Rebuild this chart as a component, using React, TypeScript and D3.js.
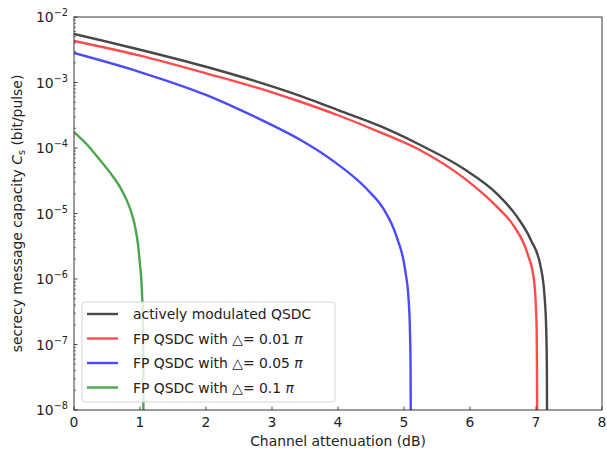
import React from 'react'
import * as d3 from 'd3'

// attenuation (dB) and log10 of capacity
const blackAtt = [0, 1, 2, 3, 3.58, 4, 4.65, 5.24, 5.91, 6.41, 6.72, 6.92, 7.07, 7.13, 7.155, 7.165, 7.17]
const blackLog = [-2.26, -2.5, -2.76, -3.06, -3.26, -3.42, -3.67, -3.95, -4.32, -4.7, -5.06, -5.4, -5.81, -6.27, -6.78, -7.4, -9]

const redAtt = [0, 1, 2, 3, 3.42, 4, 4.64, 5.24, 5.91, 6.41, 6.67, 6.87, 6.97, 7.0, 7.01, 7.015, 7.02]
const redLog = [-2.366, -2.59, -2.86, -3.15, -3.29, -3.5, -3.76, -4.03, -4.46, -4.9, -5.2, -5.61, -6.02, -6.47, -6.78, -7.4, -9]

const blueAtt = [0, 1, 2, 2.5, 3, 3.42, 3.93, 4.44, 4.69, 4.89, 5.02, 5.07, 5.09, 5.1, 5.105]
const blueLog = [-2.55, -2.84, -3.19, -3.41, -3.65, -3.87, -4.2, -4.63, -4.93, -5.36, -5.88, -6.32, -6.78, -7.4, -9]

const greenAtt = [0, 0.2, 0.39, 0.55, 0.7, 0.8, 0.88, 0.93, 0.97, 1.0, 1.03, 1.045, 1.05, 1.055]
const greenLog = [-3.756, -3.95, -4.18, -4.38, -4.6, -4.8, -5.02, -5.22, -5.48, -5.78, -6.2, -6.7, -7.4, -9]

const seriesNames = ['actively modulated QSDC', 'FP QSDC with ', 'FP QSDC with ', 'FP QSDC with ']
const deltas = ['', '0.01', '0.05', '0.1']
const colors = ['#474747', '#ff4b4b', '#4a4aff', '#4ca64c']

const xTicks = [0, 1, 2, 3, 4, 5, 6, 7, 8]
const yExps = [-8, -7, -6, -5, -4, -3, -2]

const W = 607
const H = 449
const left = 74
const right = 602
const top = 17
const bottom = 410
const font = 'DejaVu Sans, sans-serif'

export default function App() {
  const x = d3.scaleLinear().domain([0, 8]).range([left, right])
  const y = d3.scaleLog().domain([1e-8, 1e-2]).range([bottom, top])

  const series = [
    [blackAtt, blackLog],
    [redAtt, redLog],
    [blueAtt, blueLog],
    [greenAtt, greenLog],
  ].map(([a, l]) => a.map((v, i) => [v, Math.pow(10, l[i])] as [number, number]))

  const line = d3.line<[number, number]>()
    .x(d => x(d[0]))
    .y(d => y(d[1]))
    .curve(d3.curveMonotoneX)

  const minor: number[] = []
  for (let e = -8; e < -2; e++) {
    for (let k = 2; k <= 9; k++) minor.push(k * Math.pow(10, e))
  }

  const legX = 82, legY = 302, legW = 253, legH = 100

  return (
    <svg width={W} height={H} style={{position: 'absolute', left: 0, top: 0}} fontFamily={font}>
      <rect width={W} height={H} fill="#fff" />
      <defs>
        <clipPath id="plot">
          <rect x={left} y={top} width={right - left} height={bottom - top} />
        </clipPath>
      </defs>

      <g clipPath="url(#plot)">
        {series.map((s, i) => (
          <path key={i} d={line(s) || ''} fill="none" stroke={colors[i]} strokeWidth={2.4} />
        ))}
      </g>

      {/* ticks, pointing in */}
      {xTicks.map(t => (
        <g key={t}>
          <line x1={x(t)} x2={x(t)} y1={bottom} y2={bottom - 3.5} stroke="#222" strokeWidth={0.8} />
          <text x={x(t)} y={427} textAnchor="middle" fontSize={13.9} fill="#222">{t}</text>
        </g>
      ))}
      {yExps.map(e => (
        <g key={e}>
          <line x1={left} x2={left + 3.5} y1={y(Math.pow(10, e))} y2={y(Math.pow(10, e))} stroke="#222" strokeWidth={0.8} />
          <text x={68} y={y(Math.pow(10, e)) + 5} textAnchor="end" fontSize={13.9} fill="#222">
            10<tspan dy={-6} fontSize={9.7}>{'\u2212' + Math.abs(e)}</tspan>
          </text>
        </g>
      ))}
      {minor.map((m, i) => (
        <line key={i} x1={left} x2={left + 2} y1={y(m)} y2={y(m)} stroke="#222" strokeWidth={0.6} />
      ))}

      <rect x={left} y={top} width={right - left} height={bottom - top} fill="none" stroke="#222" strokeWidth={0.9} />

      <text x={(left + right) / 2} y={446} textAnchor="middle" fontSize={13.9} fill="#222">Channel attenuation (dB)</text>
      <text transform={`translate(22,${(top + bottom) / 2}) rotate(-90)`} textAnchor="middle" fontSize={13.9} fill="#222">
        secrecy message capacity <tspan fontStyle="italic">C</tspan><tspan dy={3} fontSize={9.7}>s</tspan><tspan dy={-3}> (bit/pulse)</tspan>
      </text>

      {/* legend */}
      <rect x={legX} y={legY} width={legW} height={legH} rx={3} fill="#fff" fillOpacity={0.8} stroke="#d0d0d0" strokeWidth={0.9} />
      {seriesNames.map((n, i) => {
        const ry = legY + 12 + i * 24.5
        return (
          <g key={i}>
            <line x1={legX + 5} x2={legX + 36} y1={ry} y2={ry} stroke={colors[i]} strokeWidth={2.4} />
            <text x={legX + 51} y={ry + 5} fontSize={13.9} fill="#222">
              {n}
              {deltas[i] && (
                <>
                  <tspan>{'\u25B3= ' + deltas[i] + ' '}</tspan>
                  <tspan fontStyle="italic">{'\u03C0'}</tspan>
                </>
              )}
            </text>
          </g>
        )
      })}
    </svg>
  )
}
